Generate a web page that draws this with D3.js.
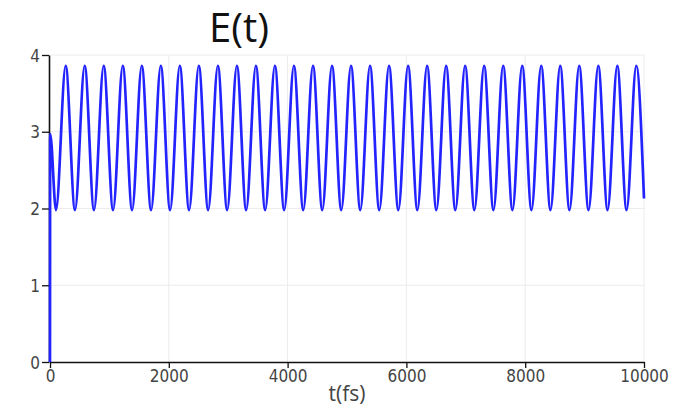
<!DOCTYPE html>
<html>
<head>
<meta charset="utf-8">
<script src="https://cdn.jsdelivr.net/npm/d3@7"></script>
<style>
  body { margin: 0; background: #fff; }
  .tick text { font-family: "DejaVu Sans Condensed", "DejaVu Sans", sans-serif; font-stretch: condensed; font-size: 17px; fill: #444; }
</style>
</head>
<body>
<div id="chart"></div>
<script>
// E(t): start spike, then alternating troughs / peaks
const timeFs = [0, 3, 101, 264, 421, 584, 741, 904, 1062, 1225, 1382, 1545, 1702, 1865,
  2022, 2185, 2342, 2505, 2663, 2826, 2983, 3146, 3303, 3466, 3623, 3786, 3943, 4106,
  4264, 4427, 4584, 4747, 4904, 5067, 5224, 5387, 5544, 5707, 5865, 6028, 6185, 6348,
  6505, 6668, 6825, 6988, 7145, 7308, 7466, 7629, 7786, 7949, 8106, 8269, 8426, 8589,
  8746, 8909, 9067, 9230, 9387, 9550, 9707, 9870, 10000];
const energy = [0, 2.97,
  1.98, 3.86, 1.98, 3.86, 1.98, 3.86, 1.98, 3.86, 1.98, 3.86, 1.98, 3.86,
  1.98, 3.86, 1.98, 3.86, 1.98, 3.86, 1.98, 3.86, 1.98, 3.86, 1.98, 3.86,
  1.98, 3.86, 1.98, 3.86, 1.98, 3.86, 1.98, 3.86, 1.98, 3.86, 1.98, 3.86,
  1.98, 3.86, 1.98, 3.86, 1.98, 3.86, 1.98, 3.86, 1.98, 3.86, 1.98, 3.86,
  1.98, 3.86, 1.98, 3.86, 1.98, 3.86, 1.98, 3.86, 1.98, 3.86, 1.98, 3.86,
  1.98, 3.86,
  2.13];
const xTicks = [0, 2000, 4000, 6000, 8000, 10000];
const yTicks = [0, 1, 2, 3, 4];

const width = 689;
const height = 410;
const margin = { top: 55, right: 45, bottom: 48, left: 50 };

const svg = d3.select("#chart")
  .append("svg")
  .attr("width", width)
  .attr("height", height);

const x = d3.scaleLinear().domain([0, 10000]).range([margin.left, width - margin.right]);
const y = d3.scaleLinear().domain([0, 4]).range([height - margin.bottom, margin.top]);

// grid
svg.append("g")
  .selectAll("line.h")
  .data(yTicks.slice(1))
  .enter()
  .append("line")
  .attr("x1", x(0))
  .attr("x2", x(10000))
  .attr("y1", (d) => y(d))
  .attr("y2", (d) => y(d))
  .attr("stroke", "#ececec");

svg.append("g")
  .selectAll("line.v")
  .data(xTicks.slice(1))
  .enter()
  .append("line")
  .attr("x1", (d) => x(d))
  .attr("x2", (d) => x(d))
  .attr("y1", y(0))
  .attr("y2", y(4))
  .attr("stroke", "#ececec");

// axes
const xAxis = svg.append("g")
  .attr("transform", `translate(0, ${y(0)})`)
  .call(d3.axisBottom(x).tickValues(xTicks).tickFormat(d3.format("d")).tickSize(6).tickSizeOuter(0).tickPadding(2));

const yAxis = svg.append("g")
  .attr("transform", `translate(${x(0) - 1}, 0)`)
  .call(d3.axisLeft(y).tickValues(yTicks).tickFormat(d3.format("d")).tickSize(7).tickSizeOuter(0).tickPadding(2));

[xAxis, yAxis].forEach((g) => {
  g.select(".domain").attr("stroke", "#111").attr("stroke-width", 1.6);
  g.selectAll(".tick line").attr("stroke", "#111").attr("stroke-width", 1.3);
});
yAxis.selectAll(".tick text").attr("dy", "0.36em");

// line, drawn over the axes like in the original
const points = timeFs.map((t, i) => ({ t: t, e: energy[i] }));
const line = d3.line()
  .x((d) => x(d.t))
  .y((d) => y(d.e))
  .curve(d3.curveMonotoneX);

svg.append("path")
  .datum(points)
  .attr("fill", "none")
  .attr("stroke", "#2323ff")
  .attr("stroke-width", 2.7)
  .attr("stroke-linejoin", "round")
  .attr("d", line);

// titles
svg.append("text")
  .attr("x", 239)
  .attr("y", 42)
  .attr("text-anchor", "middle")
  .style("font-family", "'Open Sans', 'Noto Sans', sans-serif")
  .style("font-size", "40px")
  .style("fill", "#111")
  .text("E(t)");

svg.append("text")
  .attr("x", 347)
  .attr("y", 401)
  .attr("text-anchor", "middle")
  .style("font-family", "'Open Sans', 'Noto Sans', sans-serif")
  .style("font-size", "21px")
  .style("fill", "#444")
  .text("t(fs)");
</script>
</body>
</html>
